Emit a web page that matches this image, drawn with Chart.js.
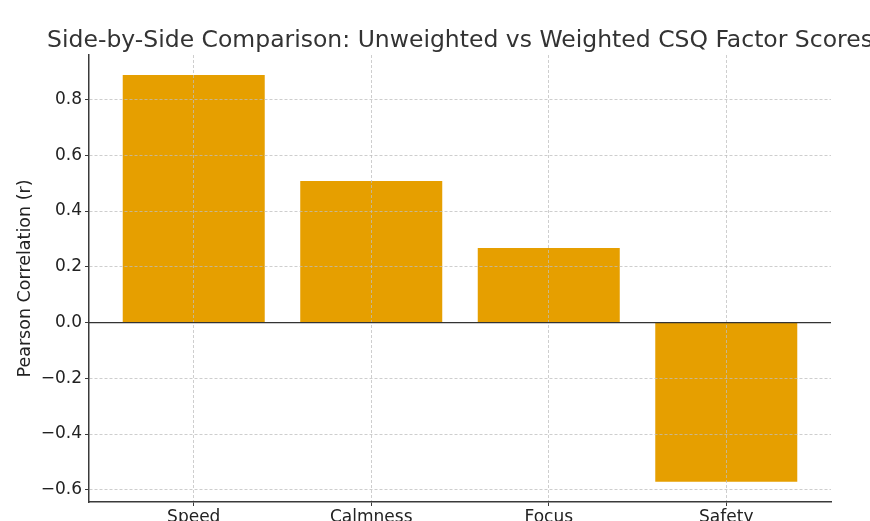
<!DOCTYPE html>
<html>
<head>
<meta charset="utf-8">
<script src="https://cdn.jsdelivr.net/npm/chart.js@4"></script>
<style>
  html, body { margin: 0; padding: 0; background: #fff; }
  #wrap { width: 870px; height: 521px; }
</style>
</head>
<body>
<div id="wrap"><canvas id="chart" width="870" height="521"></canvas></div>
<script>
const categories = ["Speed", "Calmness", "Focus", "Safety"]
const correlations = [0.888, 0.508, 0.267, -0.571]
const yTickValues = [-0.6, -0.4, -0.2, 0.0, 0.2, 0.4, 0.6, 0.8]

const titleText = "Side-by-Side Comparison: Unweighted vs Weighted CSQ Factor Scores"
const gridColor = "rgba(190,190,190,0.75)"
const spineColor = "#3a3a3a"
const font = "'DejaVu Sans', sans-serif"

// matplotlib-like title (centred over the plot) and the zero line
const extras = {
  id: "extras",
  afterDraw(chart) {
    const { ctx, chartArea, scales } = chart
    ctx.save()
    const y0 = scales.y.getPixelForValue(0)
    ctx.strokeStyle = "#333"
    ctx.lineWidth = 1.3
    ctx.beginPath()
    ctx.moveTo(chartArea.left, y0)
    ctx.lineTo(chartArea.right, y0)
    ctx.stroke()

    ctx.fillStyle = "#333"
    ctx.font = "23.5px " + font
    ctx.textAlign = "center"
    ctx.textBaseline = "alphabetic"
    ctx.fillText(titleText, (chartArea.left + chartArea.right) / 2, 47)
    ctx.restore()
  }
}

new Chart(document.getElementById("chart"), {
  type: "bar",
  data: {
    datasets: [{
      data: correlations.map((v, i) => ({ x: i, y: v })),
      backgroundColor: "#E69F00",
      borderWidth: 0,
      barPercentage: 0.8,
      categoryPercentage: 1.0
    }]
  },
  options: {
    responsive: false,
    animation: false,
    layout: { padding: { top: 55, right: 39, left: 0, bottom: 0 } },
    plugins: {
      legend: { display: false },
      tooltip: { enabled: false },
      title: { display: false }
    },
    scales: {
      x: {
        type: "linear",
        offset: false,
        min: -0.59,
        max: 3.59,
        afterBuildTicks: (scale) => { scale.ticks = categories.map((c, i) => ({ value: i })) },
        afterFit: (scale) => { scale.height = 19 },
        ticks: {
          callback: (v) => categories[v],
          color: "#222",
          font: { family: font, size: 17 },
          padding: 1,
          maxRotation: 0
        },
        grid: { offset: false, color: gridColor, lineWidth: 1, tickLength: 4, tickColor: spineColor, z: 1 },
        border: { display: true, color: spineColor, width: 1.5, dash: [3, 2], z: 2 }
      },
      y: {
        min: -0.644,
        max: 0.96,
        afterBuildTicks: (scale) => { scale.ticks = yTickValues.map(v => ({ value: v })) },
        afterFit: (scale) => { scale.width = 89 },
        ticks: {
          callback: (v) => (v < 0 ? "\u2212" : "") + Math.abs(v).toFixed(1),
          color: "#222",
          font: { family: font, size: 17 },
          padding: 3
        },
        grid: { color: gridColor, lineWidth: 1, tickLength: 4, tickColor: spineColor, z: 1 },
        border: { display: true, color: spineColor, width: 1.5, dash: [3, 2], z: 2 },
        title: {
          display: true,
          text: "Pearson Correlation (r)",
          color: "#222",
          font: { family: font, size: 17.5 },
          padding: { top: 15, bottom: 0 }
        }
      }
    }
  },
  plugins: [extras]
})
</script>
</body>
</html>
